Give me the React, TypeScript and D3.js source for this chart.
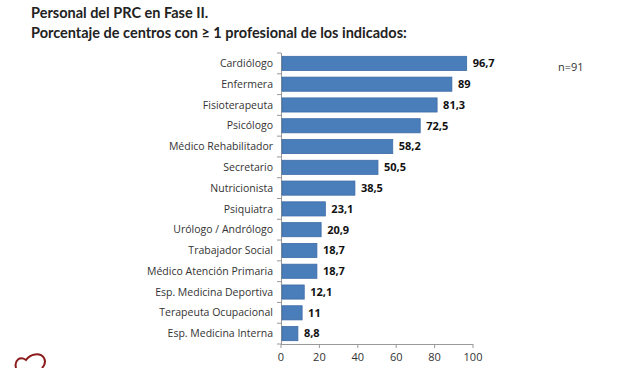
import React from "react";
import * as d3 from "d3";

const categories = [
  "Cardiólogo",
  "Enfermera",
  "Fisioterapeuta",
  "Psicólogo",
  "Médico Rehabilitador",
  "Secretario",
  "Nutricionista",
  "Psiquiatra",
  "Urólogo / Andrólogo",
  "Trabajador Social",
  "Médico Atención Primaria",
  "Esp. Medicina Deportiva",
  "Terapeuta Ocupacional",
  "Esp. Medicina Interna",
];
const values = [96.7, 89, 81.3, 72.5, 58.2, 50.5, 38.5, 23.1, 20.9, 18.7, 18.7, 12.1, 11, 8.8];
const valueLabels = ["96,7", "89", "81,3", "72,5", "58,2", "50,5", "38,5", "23,1", "20,9", "18,7", "18,7", "12,1", "11", "8,8"];
const xTicks = [0, 20, 40, 60, 80, 100];
const titleLines = ["Personal del PRC en Fase II.", "Porcentaje de centros con ≥ 1 profesional de los indicados:"];
const note = "n=91";

export default function App() {
  const W = 620, H = 368;
  const left = 281, right = 473, top = 53, bottom = 344;
  const x = d3.scaleLinear().domain([0, 100]).range([left, right]);
  const y = d3.scaleBand<string>().domain(categories).range([top, bottom]).paddingInner(0.32).paddingOuter(0.16);
  const font = "'Open Sans', 'Liberation Sans', sans-serif";
  const titleFont = "Lato, 'Open Sans', sans-serif";
  const boundaries = d3.range(categories.length + 1).map((i) => top + i * ((bottom - top) / categories.length));
  return (
    <svg width={W} height={H} style={{ position: "absolute", left: 0, top: 0, background: "#fff" }}>
      <rect width={W} height={H} fill="#fff" />
      {titleLines.map((t, i) => (
        <text key={i} x={31} y={18 + i * 19.5} fontFamily={titleFont} fontWeight={700} fontSize={14.5} fill="#222">
          {t}
        </text>
      ))}
      <text x={558} y={71} fontFamily={font} fontSize={11} fill="#333">{note}</text>
      {/* y axis */}
      <line x1={left + 0.5} x2={left + 0.5} y1={top} y2={bottom} stroke="#999" />
      {boundaries.map((b, i) => (
        <line key={i} x1={left - 4} x2={left} y1={b} y2={b} stroke="#999" />
      ))}
      {/* x axis */}
      <line x1={left} x2={right} y1={bottom + 0.5} y2={bottom + 0.5} stroke="#999" />
      {xTicks.map((t) => (
        <g key={t}>
          <line x1={x(t)} x2={x(t)} y1={bottom} y2={bottom + 4} stroke="#999" />
          <text x={x(t)} y={361} textAnchor="middle" fontFamily={font} fontSize={11} fill="#333">{t}</text>
        </g>
      ))}
      {categories.map((c, i) => {
        const yy = y(c)!;
        const bh = y.bandwidth();
        return (
          <g key={c}>
            <rect x={x(0) + 1} y={yy} width={x(values[i]) - x(0) - 1} height={bh} fill="#4a7ebb" stroke="#3c6ba5" strokeWidth={0.8} />
            <text x={left - 8} y={yy + bh / 2} dy="0.35em" textAnchor="end" fontFamily={font} fontSize={10.5} fill="#333">{c}</text>
            <text x={x(values[i]) + 6} y={yy + bh / 2} dy="0.35em" fontFamily={font} fontWeight={700} fontSize={11} fill="#111">{valueLabels[i]}</text>
          </g>
        );
      })}
      <path d="M16,368 C14,360 20,356 26,360 C30,354 40,352 44,358 C46,362 44,366 42,368" fill="none" stroke="#8b1a1a" strokeWidth={2} />
    </svg>
  );
}
